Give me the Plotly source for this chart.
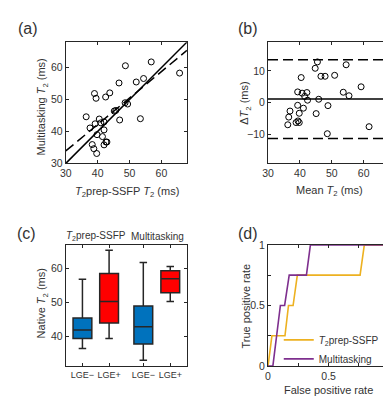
import plotly.graph_objects as go

# ---------------- data ----------------
# (a) T2prep-SSFP T2 vs Multitasking T2 (ms)
a_ssfp = [48.7, 56.8, 65.7, 46.7, 52.1, 54.4, 39.0, 39.5, 42.5, 43.8, 36.4, 45.2, 45.7, 48.6, 49.4,
          46.9, 53.4, 40.5, 41.0, 39.2, 37.6, 42.0, 42.0, 39.8, 41.5, 38.3, 38.8, 39.7, 42.0, 42.6, 42.9]
a_multi = [60.6, 61.8, 58.3, 55.2, 55.5, 56.6, 51.9, 50.4, 50.8, 52.1, 44.6, 46.4, 46.6, 49.0, 48.6,
           43.6, 44.0, 43.9, 42.7, 42.4, 41.1, 43.0, 40.5, 39.0, 38.4, 35.9, 34.6, 33.1, 35.8, 36.7, 36.7]
identity_x = [30, 68]
identity_y = [30, 68]
fit_x = [30, 68]
fit_y = [33.9, 65.4]

# (b) Bland-Altman
b_mean = [45.5, 44.8, 54.5, 40.4, 46.6, 47.9, 50.9, 59.2, 53.6, 55.4, 39.3, 40.7, 42.2, 41.5, 42.4,
          45.9, 39.3, 48.8, 36.9, 41.1, 39.8, 45.1, 36.5, 38.8, 39.4, 39.8, 36.2, 61.7, 48.6]
b_diff = [12.8, 10.8, 11.9, 7.9, 8.3, 8.3, 8.6, 5.0, 3.3, 2.2, 3.4, 3.0, 3.2, 2.0, 0.8,
          1.1, -0.8, -0.9, -2.6, -1.7, -3.3, -3.4, -4.5, -6.2, -5.7, -6.2, -6.9, -7.5, -9.7]
b_bias = 1.14
b_loa_upper = 13.5
b_loa_lower = -11.2

# (c) box plots: Native T2 (ms)
c_labels = ["LGE−", "LGE+", "LGE−", "LGE+"]
c_positions = [1.05, 1.93, 3.06, 3.95]
c_lower = [36.5, 39.4, 33.0, 50.3]
c_q1 = [39.4, 44.0, 37.8, 52.9]
c_median = [41.9, 50.3, 42.9, 57.0]
c_q3 = [45.5, 58.6, 49.0, 59.4]
c_upper = [56.9, 65.4, 61.8, 60.6]
c_colors = ["#0072BD", "#FF0000", "#0072BD", "#FF0000"]
c_groups = ["<i>T</i><sub>2</sub>prep-SSFP", "Multitasking"]

# (d) ROC curves
roc_ssfp_fpr = [0, 0.032, 0.14, 0.169, 0.207, 0.242, 0.76, 0.795, 1]
roc_ssfp_tpr = [0, 0.25, 0.25, 0.5, 0.5, 0.75, 0.75, 1, 1]
roc_multi_fpr = [0, 0.04, 0.102, 0.137, 0.175, 0.317, 0.35, 1]
roc_multi_tpr = [0, 0, 0.5, 0.5, 0.75, 0.75, 1, 1]

# ---------------- layout helpers ----------------
W, H = 391, 400
FONT = "Liberation Sans, Arial, sans-serif"
AX = "#262626"
TXT = "#333333"


def px_x(p):
    return p / W


def px_y(p):
    return 1 - p / H


col_l = [px_x(53), px_x(177)]
col_r = [px_x(260), px_x(384)]
row_t = [px_y(154), px_y(29)]
row_b = [px_y(363), px_y(238)]

fig = go.Figure()

# (a)
fig.add_trace(go.Scatter(x=identity_x, y=identity_y, mode="lines", line=dict(color="black", width=1.5),
                         xaxis="x", yaxis="y", showlegend=False, hoverinfo="skip"))
fig.add_trace(go.Scatter(x=fit_x, y=fit_y, mode="lines", line=dict(color="black", width=1.5, dash="10px,5px"),
                         xaxis="x", yaxis="y", showlegend=False, hoverinfo="skip"))
fig.add_trace(go.Scatter(x=a_ssfp, y=a_multi, mode="markers",
                         marker=dict(symbol="circle-open", size=6, color="black", line=dict(width=1)),
                         xaxis="x", yaxis="y", showlegend=False))

# (b)
fig.add_trace(go.Scatter(x=b_mean, y=b_diff, mode="markers",
                         marker=dict(symbol="circle-open", size=6, color="black", line=dict(width=1)),
                         xaxis="x2", yaxis="y2", showlegend=False))
for val, dash in [(b_bias, "solid"), (b_loa_upper, "10px,5px"), (b_loa_lower, "10px,5px")]:
    fig.add_shape(type="line", xref="x2 domain", yref="y2", x0=0, x1=1, y0=val, y1=val,
                  line=dict(color="black", width=1.5, dash=dash))

# (c)
for i in range(4):
    fig.add_trace(go.Box(x=[c_positions[i]], q1=[c_q1[i]], median=[c_median[i]], q3=[c_q3[i]],
                         lowerfence=[c_lower[i]], upperfence=[c_upper[i]],
                         width=0.62, whiskerwidth=0.4, fillcolor=c_colors[i],
                         line=dict(color=AX, width=1.5), boxpoints=False,
                         xaxis="x3", yaxis="y3", showlegend=False, hoverinfo="skip"))

# (d)
fig.add_trace(go.Scatter(x=roc_ssfp_fpr, y=roc_ssfp_tpr, mode="lines", name="<i>T</i><sub>2</sub>prep-SSFP",
                         line=dict(color="#EDB120", width=1.6), xaxis="x4", yaxis="y4"))
fig.add_trace(go.Scatter(x=roc_multi_fpr, y=roc_multi_tpr, mode="lines", name="Multitasking",
                         line=dict(color="#7E2F8E", width=1.6), xaxis="x4", yaxis="y4"))

axis_common = dict(showline=True, linecolor=AX, linewidth=1.2, mirror="allticks", ticks="inside",
                   ticklen=3, tickcolor=AX, showgrid=False, zeroline=False, tickangle=0,
                   tickfont=dict(family=FONT, size=10.5, color=TXT), fixedrange=True)

minor_q = dict(tickvals=[0.25, 0.75], ticks="inside", ticklen=3, tickcolor=AX, showgrid=False)

fig.update_layout(
    width=W, height=H, margin=dict(l=0, r=0, t=0, b=0),
    paper_bgcolor="white", plot_bgcolor="white",
    font=dict(family=FONT, color=TXT),
    xaxis=dict(domain=col_l, anchor="y", range=[30, 68], tickvals=[30, 40, 50, 60], **axis_common),
    yaxis=dict(domain=row_t, anchor="x", range=[30, 68], tickvals=[30, 40, 50, 60], **axis_common),
    xaxis2=dict(domain=col_r, anchor="y2", range=[30, 68], tickvals=[30, 40, 50, 60], **axis_common),
    yaxis2=dict(domain=row_t, anchor="x2", range=[-19, 19], tickvals=[-10, 0, 10],
                ticktext=["−10", "0", "10"], **axis_common),
    xaxis3=dict(domain=col_l, anchor="y3", range=[0.5, 4.5], tickvals=c_positions, ticktext=c_labels,
                **axis_common),
    yaxis3=dict(domain=row_b, anchor="x3", range=[31.3, 67], tickvals=[40, 50, 60], **axis_common),
    xaxis4=dict(domain=col_r, anchor="y4", range=[0, 1], tickvals=[0, 0.5, 1],
                ticktext=["0", "0.5", "1"], minor=minor_q, **axis_common),
    yaxis4=dict(domain=row_b, anchor="x4", range=[0, 1], tickvals=[0, 0.5, 1],
                ticktext=["0", "0.5", "1"], minor=minor_q, **axis_common),
    legend=dict(x=px_x(271), y=px_y(321), xanchor="left", yanchor="top",
                bgcolor="rgba(0,0,0,0)", borderwidth=0,
                font=dict(family=FONT, size=10, color=TXT),
                itemwidth=30, tracegroupgap=0),
    showlegend=True,
)
fig.layout.xaxis3.tickfont.size = 9


def ann(text, x, y, size=11, angle=0, xanchor="center"):
    fig.add_annotation(text=text, x=px_x(x), y=px_y(y), xref="paper", yref="paper",
                       showarrow=False, textangle=angle, xanchor=xanchor, yanchor="middle",
                       font=dict(family=FONT, size=size, color=TXT))


# panel labels
ann("(a)", 14, 15, size=16)
ann("(b)", 240, 15, size=16)
ann("(c)", 13, 226, size=16)
ann("(d)", 240, 226, size=16)

# axis titles
ann("Multitasking <i>T</i><sub>2</sub> (ms)", 29, 96, angle=-90)
ann("<i>T</i><sub>2</sub>prep-SSFP <i>T</i><sub>2</sub> (ms)", 116, 183)
ann("Δ<i>T</i><sub>2</sub> (ms)", 237, 92, angle=-90)
ann("Mean <i>T</i><sub>2</sub> (ms)", 323, 182)
ann("Native <i>T</i><sub>2</sub> (ms)", 29, 298, angle=-90)
ann("True positive rate", 237, 301, angle=-90)
ann("False positive rate", 322, 388)

# group labels above (c)
ann(c_groups[0], 84, 229, size=10)
ann(c_groups[1], 147, 229, size=10)

fig.write_html("out.html")
